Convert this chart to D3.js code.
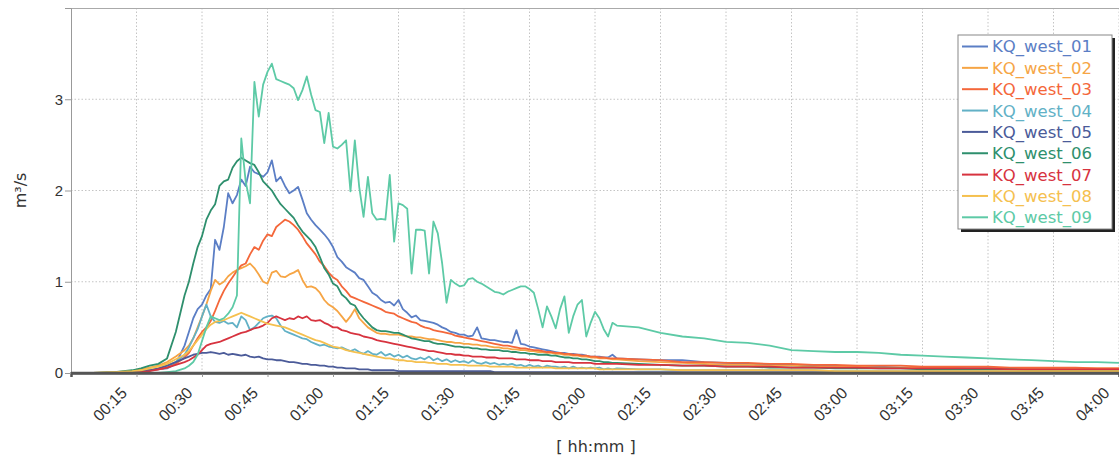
<!DOCTYPE html>
<html>
<head>
<meta charset="utf-8">
<script src="https://cdn.jsdelivr.net/npm/d3@7"></script>
<style>
  body { margin: 0; background: #fff; }
  svg { display: block; font-family: "DejaVu Sans", Verdana, sans-serif; }
</style>
</head>
<body>
<div id="chart"></div>
<script>
// time axis in minutes since 00:00 (shared by all series)
const minutes = [0, 5, 10, 14, 16, 18, 20, 22, 24, 26,
  27, 28, 29, 30, 31, 32, 33, 34, 35, 36,
  37, 38, 39, 40, 41, 42, 43, 44, 45, 46,
  47, 48, 49, 50, 51, 52, 53, 54, 55, 56,
  57, 58, 59, 60, 61, 62, 63, 64, 65, 66,
  67, 68, 69, 70, 71, 72, 73, 74, 75, 76,
  77, 78, 79, 80, 81, 82, 83, 84, 85, 86,
  87, 88, 89, 90, 91, 92, 93, 94, 95, 96,
  97, 98, 99, 100, 101, 102, 103, 104, 105, 106,
  107, 108, 109, 110, 111, 112, 113, 114, 115, 116,
  117, 118, 119, 120, 121, 122, 123, 124, 125,
  130, 135, 140, 145, 150, 155, 160, 165, 170, 175, 180, 185,
  190, 195, 200, 205, 210, 215, 220, 225, 230, 235, 240]

const west01 = [0, 0, 0, 0.01, 0.02, 0.03, 0.04, 0.05, 0.1, 0.3,
  0.45, 0.6, 0.7, 0.75, 0.85, 0.92, 1.46, 1.35, 1.6, 1.97,
  1.86, 1.95, 2.12, 2.05, 2.26, 2.2, 2.18, 2.15, 2.2, 2.33,
  2.1, 2.15, 2.05, 1.97, 2.0, 2.04, 1.9, 1.75, 1.68, 1.62,
  1.57, 1.52, 1.46, 1.38, 1.27, 1.22, 1.16, 1.13, 1.1, 1.04,
  1.02, 0.95, 0.88, 0.85, 0.8, 0.77, 0.78, 0.74, 0.8, 0.7,
  0.66, 0.61, 0.63, 0.58, 0.57, 0.56, 0.55, 0.53, 0.5, 0.48,
  0.45, 0.44, 0.42, 0.42, 0.4, 0.41, 0.5, 0.38, 0.37, 0.36,
  0.36, 0.35, 0.34, 0.34, 0.33, 0.47, 0.32, 0.31, 0.29, 0.28,
  0.27, 0.26, 0.25, 0.24, 0.23, 0.22, 0.22, 0.21, 0.21, 0.2,
  0.2, 0.19, 0.18, 0.18, 0.18, 0.17, 0.17, 0.2, 0.16,
  0.15, 0.14, 0.14, 0.12, 0.11, 0.1, 0.09, 0.09, 0.08, 0.08, 0.07, 0.07,
  0.06, 0.06, 0.06, 0.05, 0.05, 0.05, 0.04, 0.04, 0.04, 0.04, 0.04]

const west02 = [0, 0, 0.01, 0.02, 0.04, 0.06, 0.08, 0.12, 0.18, 0.25,
  0.3, 0.38, 0.5, 0.62, 0.75, 0.9, 1.02, 0.97, 1.0, 1.06,
  1.1, 1.13, 1.15, 1.17, 1.2, 1.15, 1.08, 1.0, 0.98, 1.1,
  1.12, 1.06, 1.05, 1.08, 1.1, 1.13, 1.02, 0.94, 0.95, 0.93,
  0.88, 0.8, 0.75, 0.72, 0.68, 0.62, 0.56, 0.62, 0.7, 0.6,
  0.55, 0.5, 0.47, 0.44, 0.43, 0.43, 0.42, 0.42, 0.42, 0.41,
  0.4, 0.4, 0.39, 0.39, 0.38, 0.37, 0.37, 0.36, 0.35, 0.34,
  0.34, 0.33, 0.33, 0.32, 0.32, 0.31, 0.31, 0.3, 0.3, 0.29,
  0.28, 0.28, 0.27, 0.27, 0.26, 0.26, 0.25, 0.25, 0.24, 0.24,
  0.23, 0.23, 0.22, 0.22, 0.21, 0.21, 0.2, 0.2, 0.19, 0.19,
  0.18, 0.18, 0.17, 0.17, 0.16, 0.16, 0.16, 0.15, 0.15,
  0.13, 0.12, 0.11, 0.1, 0.09, 0.09, 0.08, 0.08, 0.07, 0.07, 0.07, 0.06,
  0.06, 0.06, 0.06, 0.05, 0.05, 0.05, 0.05, 0.05, 0.05, 0.05, 0.05]

const west03 = [0, 0, 0, 0.01, 0.02, 0.03, 0.04, 0.06, 0.1, 0.17,
  0.22, 0.3, 0.38, 0.45, 0.5, 0.57, 0.68, 0.8, 0.9, 0.98,
  1.05, 1.12, 1.18, 1.2, 1.3, 1.38, 1.35, 1.45, 1.52, 1.5,
  1.6, 1.64, 1.68, 1.66, 1.62, 1.57, 1.5, 1.42, 1.36, 1.3,
  1.22, 1.17, 1.1, 1.05, 1.02, 0.95, 0.9, 0.84, 0.82, 0.8,
  0.78, 0.76, 0.74, 0.72, 0.7, 0.67, 0.66, 0.65, 0.62, 0.6,
  0.58, 0.56, 0.55, 0.52, 0.5, 0.49, 0.47, 0.46, 0.45, 0.44,
  0.43, 0.41, 0.4, 0.39, 0.38, 0.37, 0.36, 0.35, 0.34, 0.33,
  0.32, 0.31, 0.3, 0.3, 0.29, 0.28, 0.27, 0.27, 0.26, 0.25,
  0.25, 0.24, 0.23, 0.23, 0.22, 0.22, 0.21, 0.21, 0.2, 0.2,
  0.19, 0.19, 0.18, 0.18, 0.17, 0.17, 0.16, 0.16, 0.16,
  0.15, 0.14, 0.12, 0.12, 0.11, 0.11, 0.1, 0.1, 0.09, 0.09, 0.08, 0.08,
  0.08, 0.07, 0.07, 0.07, 0.07, 0.06, 0.06, 0.06, 0.06, 0.05, 0.05]

const west04 = [0, 0, 0, 0.01, 0.02, 0.03, 0.05, 0.08, 0.12, 0.2,
  0.28, 0.38, 0.48, 0.62, 0.75, 0.62, 0.56, 0.55, 0.57, 0.54,
  0.55, 0.5, 0.62, 0.58, 0.47, 0.5, 0.55, 0.6, 0.62, 0.63,
  0.6, 0.52, 0.46, 0.44, 0.42, 0.4, 0.38, 0.37, 0.34, 0.32,
  0.3, 0.31, 0.29, 0.28, 0.27, 0.28, 0.26, 0.24, 0.26, 0.23,
  0.21, 0.24, 0.21, 0.2, 0.23, 0.19, 0.21, 0.18, 0.2, 0.17,
  0.19, 0.16, 0.15, 0.17, 0.15, 0.18, 0.14, 0.16, 0.13, 0.15,
  0.12, 0.14, 0.12, 0.13, 0.11, 0.14, 0.11, 0.1, 0.12, 0.1,
  0.11, 0.09, 0.1, 0.09, 0.1, 0.08, 0.09, 0.07, 0.09, 0.07,
  0.08, 0.06, 0.08, 0.07, 0.07, 0.06, 0.07, 0.05, 0.07, 0.05,
  0.06, 0.05, 0.06, 0.05, 0.06, 0.04, 0.05, 0.04, 0.05,
  0.04, 0.04, 0.03, 0.03, 0.03, 0.03, 0.03, 0.03, 0.03, 0.02, 0.02, 0.02,
  0.02, 0.02, 0.02, 0.02, 0.02, 0.02, 0.02, 0.02, 0.02, 0.02, 0.02]

const west05 = [0, 0, 0, 0.01, 0.02, 0.03, 0.05, 0.08, 0.12, 0.16,
  0.18, 0.2, 0.21, 0.22, 0.22, 0.23, 0.22, 0.21, 0.22, 0.2,
  0.21, 0.2, 0.19, 0.2, 0.18, 0.17, 0.18, 0.16, 0.15, 0.15,
  0.14, 0.14, 0.13, 0.12, 0.12, 0.11, 0.1, 0.1, 0.09, 0.09,
  0.08, 0.08, 0.07, 0.07, 0.06, 0.06, 0.05, 0.05, 0.05, 0.04,
  0.04, 0.04, 0.03, 0.03, 0.03, 0.03, 0.03, 0.03, 0.02, 0.02,
  0.02, 0.02, 0.02, 0.02, 0.02, 0.02, 0.02, 0.02, 0.02, 0.02,
  0.02, 0.02, 0.02, 0.02, 0.02, 0.02, 0.02, 0.02, 0.02, 0.02,
  0.01, 0.01, 0.01, 0.01, 0.01, 0.01, 0.01, 0.01, 0.01, 0.01,
  0.01, 0.01, 0.01, 0.01, 0.01, 0.01, 0.01, 0.01, 0.01, 0.01,
  0.01, 0.01, 0.01, 0.01, 0.01, 0.01, 0.01, 0.01, 0.01,
  0.01, 0.01, 0.01, 0.01, 0.01, 0.01, 0.01, 0.01, 0.01, 0.01, 0, 0,
  0, 0, 0, 0, 0, 0, 0, 0, 0, 0, 0]

const west06 = [0, 0, 0.01, 0.03, 0.05, 0.08, 0.1, 0.16, 0.45, 0.85,
  1.0, 1.2, 1.38, 1.5, 1.68, 1.78, 1.85, 2.05, 2.1, 2.12,
  2.25, 2.32, 2.36, 2.33, 2.3, 2.28, 2.2, 2.1, 2.05, 2.0,
  1.92, 1.85, 1.8, 1.75, 1.7, 1.62, 1.55, 1.5, 1.45, 1.38,
  1.27, 1.15, 1.08, 0.98, 0.95, 0.86, 0.82, 0.76, 0.74, 0.66,
  0.6, 0.55, 0.5, 0.47, 0.46, 0.46, 0.45, 0.44, 0.44, 0.42,
  0.4, 0.38, 0.37, 0.36, 0.35, 0.35, 0.33, 0.32, 0.32, 0.31,
  0.3, 0.29, 0.29, 0.28, 0.28, 0.27, 0.27, 0.26, 0.26, 0.25,
  0.25, 0.25, 0.24, 0.24, 0.23, 0.23, 0.22, 0.22, 0.21, 0.21,
  0.2, 0.2, 0.2, 0.19, 0.19, 0.18, 0.17, 0.17, 0.16, 0.16,
  0.15, 0.15, 0.14, 0.13, 0.13, 0.12, 0.12, 0.11, 0.11,
  0.1, 0.09, 0.08, 0.08, 0.07, 0.07, 0.06, 0.06, 0.06, 0.05, 0.05, 0.05,
  0.05, 0.04, 0.04, 0.04, 0.04, 0.04, 0.03, 0.03, 0.03, 0.03, 0.03]

const west07 = [0, 0, 0, 0, 0.01, 0.02, 0.04, 0.06, 0.09, 0.12,
  0.14, 0.17, 0.2, 0.25, 0.3, 0.32, 0.33, 0.34, 0.36, 0.38,
  0.4, 0.42, 0.44, 0.45, 0.47, 0.49, 0.5, 0.52, 0.55, 0.6,
  0.62, 0.6, 0.58, 0.6, 0.59, 0.62, 0.6, 0.62, 0.58, 0.57,
  0.58, 0.55, 0.53, 0.5, 0.5, 0.47, 0.46, 0.44, 0.43, 0.42,
  0.4, 0.39, 0.38, 0.36, 0.35, 0.34, 0.33, 0.32, 0.31, 0.3,
  0.29, 0.28, 0.27, 0.26, 0.25, 0.24, 0.24, 0.23, 0.22, 0.21,
  0.21, 0.2, 0.2, 0.19, 0.19, 0.18, 0.18, 0.18, 0.17, 0.17,
  0.17, 0.16, 0.16, 0.16, 0.16, 0.15, 0.15, 0.15, 0.14, 0.14,
  0.14, 0.13, 0.13, 0.13, 0.12, 0.12, 0.12, 0.12, 0.11, 0.11,
  0.11, 0.11, 0.11, 0.1, 0.1, 0.1, 0.1, 0.1, 0.1,
  0.09, 0.09, 0.08, 0.08, 0.07, 0.07, 0.07, 0.06, 0.06, 0.06, 0.06, 0.05,
  0.05, 0.05, 0.05, 0.05, 0.05, 0.04, 0.04, 0.04, 0.04, 0.04, 0.04]

const west08 = [0, 0, 0.01, 0.02, 0.03, 0.05, 0.07, 0.1, 0.15, 0.2,
  0.24, 0.3, 0.36, 0.42, 0.48, 0.53, 0.56, 0.57, 0.58, 0.6,
  0.62, 0.64, 0.66, 0.64, 0.62, 0.6, 0.58, 0.56, 0.54, 0.53,
  0.52, 0.51, 0.5, 0.48, 0.46, 0.44, 0.42, 0.4, 0.38, 0.36,
  0.35, 0.33, 0.31, 0.29, 0.28, 0.27, 0.25, 0.24, 0.23, 0.22,
  0.21, 0.2, 0.19, 0.18, 0.17, 0.16, 0.16, 0.15, 0.14, 0.14,
  0.13, 0.13, 0.12, 0.12, 0.12, 0.11, 0.11, 0.1, 0.1, 0.1,
  0.09, 0.09, 0.09, 0.09, 0.08, 0.08, 0.08, 0.08, 0.08, 0.07,
  0.07, 0.07, 0.07, 0.07, 0.07, 0.06, 0.06, 0.06, 0.06, 0.06,
  0.06, 0.06, 0.06, 0.06, 0.05, 0.05, 0.05, 0.05, 0.05, 0.05,
  0.05, 0.05, 0.05, 0.05, 0.04, 0.04, 0.04, 0.04, 0.04,
  0.04, 0.04, 0.03, 0.03, 0.03, 0.03, 0.03, 0.03, 0.03, 0.02, 0.02, 0.02,
  0.02, 0.02, 0.02, 0.02, 0.02, 0.02, 0.02, 0.02, 0.02, 0.02, 0.02]

const west09 = [0, 0, 0, 0, 0, 0, 0, 0.01, 0.02, 0.05,
  0.08, 0.12, 0.2, 0.35, 0.5, 0.62, 0.6, 0.58, 0.6, 0.65,
  0.72, 0.85, 2.57, 2.1, 1.86, 3.19, 2.81, 3.16, 3.3, 3.39,
  3.22, 3.2, 3.18, 3.16, 3.12, 2.99, 3.1, 3.25, 3.05, 2.88,
  2.86, 2.52, 2.85, 2.48, 2.46, 2.5, 2.55, 1.99, 2.55, 2.04,
  1.71, 2.15, 1.75, 1.68, 1.69, 1.68, 2.17, 1.44, 1.86, 1.84,
  1.8, 1.09, 1.57, 1.57, 1.56, 1.09, 1.66, 1.53, 1.2, 0.77,
  1.02, 0.98, 0.95, 0.96, 1.03, 1.04, 1.0, 0.98, 0.95, 0.92,
  0.89, 0.88, 0.86, 0.89, 0.91, 0.93, 0.95, 0.95, 0.92, 0.88,
  0.7, 0.5, 0.73, 0.62, 0.49, 0.7, 0.84, 0.44, 0.62, 0.75,
  0.8, 0.4, 0.55, 0.67, 0.6, 0.48, 0.4, 0.55, 0.52,
  0.5, 0.44, 0.4, 0.38, 0.34, 0.33, 0.3, 0.25, 0.24, 0.23, 0.23, 0.22,
  0.2, 0.19, 0.18, 0.17, 0.16, 0.15, 0.14, 0.13, 0.12, 0.12, 0.11]

const seriesNames = ["KQ_west_01", "KQ_west_02", "KQ_west_03", "KQ_west_04", "KQ_west_05",
  "KQ_west_06", "KQ_west_07", "KQ_west_08", "KQ_west_09"]
const seriesColors = ["#5b7ec5", "#f6a545", "#f4673a", "#62b1c6", "#4b5b99",
  "#2e8f6d", "#d7333f", "#f5c04f", "#5dcaa6"]
const seriesValues = [west01, west02, west03, west04, west05, west06, west07, west08, west09]

const xTickMinutes = [15, 30, 45, 60, 75, 90, 105, 120, 135, 150, 165, 180, 195, 210, 225, 240]
const xTickLabels = ["00:15", "00:30", "00:45", "01:00", "01:15", "01:30", "01:45", "02:00",
  "02:15", "02:30", "02:45", "03:00", "03:15", "03:30", "03:45", "04:00"]
const yTicks = [0, 1, 2, 3]

// layout
const W = 1119, H = 459
const margin = {top: 8, right: 0, bottom: 86, left: 71}

const svg = d3.select("#chart").append("svg")
    .attr("width", W)
    .attr("height", H)

const xScale = d3.scaleLinear()
    .domain([0, 240])
    .range([margin.left, W - margin.right])

const yScale = d3.scaleLinear()
    .domain([0, 4])
    .range([H - margin.bottom, margin.top])

// grid
const grid = svg.append("g").attr("class", "grid")
grid.selectAll(".vgrid")
    .data(xTickMinutes)
  .join("line")
    .attr("class", "vgrid")
    .attr("x1", d => xScale(d)).attr("x2", d => xScale(d))
    .attr("y1", margin.top).attr("y2", H - margin.bottom)
    .attr("stroke", "#c4c4c4")
    .attr("stroke-dasharray", "1.5,2")
grid.selectAll(".hgrid")
    .data(yTicks.filter(d => d > 0))
  .join("line")
    .attr("class", "hgrid")
    .attr("x1", margin.left).attr("x2", W - margin.right)
    .attr("y1", d => yScale(d)).attr("y2", d => yScale(d))
    .attr("stroke", "#c4c4c4")
    .attr("stroke-dasharray", "1.5,2")

// frame (top)
svg.append("line")
    .attr("x1", margin.left).attr("x2", W)
    .attr("y1", margin.top + 0.5).attr("y2", margin.top + 0.5)
    .attr("stroke", "#aaa")

// lines
const lineGen = d3.line()
    .x(d => xScale(d[0]))
    .y(d => yScale(d[1]))

svg.append("g").attr("class", "series")
  .selectAll("path")
    .data(seriesValues.map((vals, i) => ({
        name: seriesNames[i],
        color: seriesColors[i],
        pts: vals.map((v, j) => [minutes[j], v]).filter(p => p[0] !== undefined)
    })))
  .join("path")
    .attr("d", d => lineGen(d.pts))
    .attr("fill", "none")
    .attr("stroke", d => d.color)
    .attr("stroke-width", 1.8)
    .attr("stroke-linejoin", "round")

// axes
const xAx = d3.axisBottom(xScale)
    .tickValues(xTickMinutes)
    .tickFormat((d, i) => xTickLabels[i])
    .tickSize(4)

const xGroup = svg.append("g")
    .attr("transform", `translate(0, ${H - margin.bottom})`)
    .call(xAx)
xGroup.select(".domain").attr("stroke", "#555").attr("stroke-width", 2.5)
xGroup.selectAll(".tick line").attr("stroke", "#999")
xGroup.selectAll(".tick text")
    .attr("x", 0).attr("y", 0).attr("dy", null)
    .attr("transform", "translate(-9,21) rotate(-45)")
    .attr("text-anchor", "end")
    .attr("fill", "#333")
    .style("font-size", "16px")

const yAx = d3.axisLeft(yScale)
    .tickValues(yTicks)
    .tickFormat(d3.format("d"))
    .tickSize(6)
    .tickPadding(2)

const yGroup = svg.append("g")
    .attr("transform", `translate(${margin.left}, 0)`)
    .call(yAx)
yGroup.select(".domain").attr("stroke", "#999")
yGroup.selectAll(".tick line").attr("stroke", "#999")
yGroup.selectAll(".tick text")
    .attr("fill", "#333")
    .style("font-size", "15px")

// redraw bottom axis line above the series
svg.append("line")
    .attr("x1", margin.left).attr("x2", W)
    .attr("y1", yScale(0)).attr("y2", yScale(0))
    .attr("stroke", "#555").attr("stroke-width", 2.5)

// axis titles
svg.append("text")
    .attr("transform", `translate(26, ${(margin.top + H - margin.bottom) / 2}) rotate(-90)`)
    .attr("text-anchor", "middle")
    .attr("fill", "#333")
    .style("font-size", "16px")
    .text("m³/s")

svg.append("text")
    .attr("x", 596)
    .attr("y", 452)
    .attr("text-anchor", "middle")
    .attr("fill", "#333")
    .style("font-size", "16px")
    .text("[ hh:mm ]")

// legend
const lg = {x: 958, y: 35, w: 154, h: 194, row: 21.35}
const legend = svg.append("g").attr("class", "legend")
legend.append("rect")
    .attr("x", lg.x + 3).attr("y", lg.y + 3)
    .attr("width", lg.w).attr("height", lg.h)
    .attr("fill", "#222")
legend.append("rect")
    .attr("x", lg.x).attr("y", lg.y)
    .attr("width", lg.w).attr("height", lg.h)
    .attr("fill", "#fff")
    .attr("stroke", "#888")

const items = legend.selectAll(".item")
    .data(seriesNames)
  .join("g")
    .attr("class", "item")
    .attr("transform", (d, i) => `translate(${lg.x}, ${lg.y + 11.5 + i * lg.row})`)
items.append("line")
    .attr("x1", 4).attr("x2", 30)
    .attr("stroke", (d, i) => seriesColors[i])
    .attr("stroke-width", 2)
items.append("text")
    .attr("x", 34)
    .attr("dy", "0.36em")
    .attr("fill", (d, i) => seriesColors[i])
    .style("font-size", "16.5px")
    .text(d => d)
</script>
</body>
</html>
